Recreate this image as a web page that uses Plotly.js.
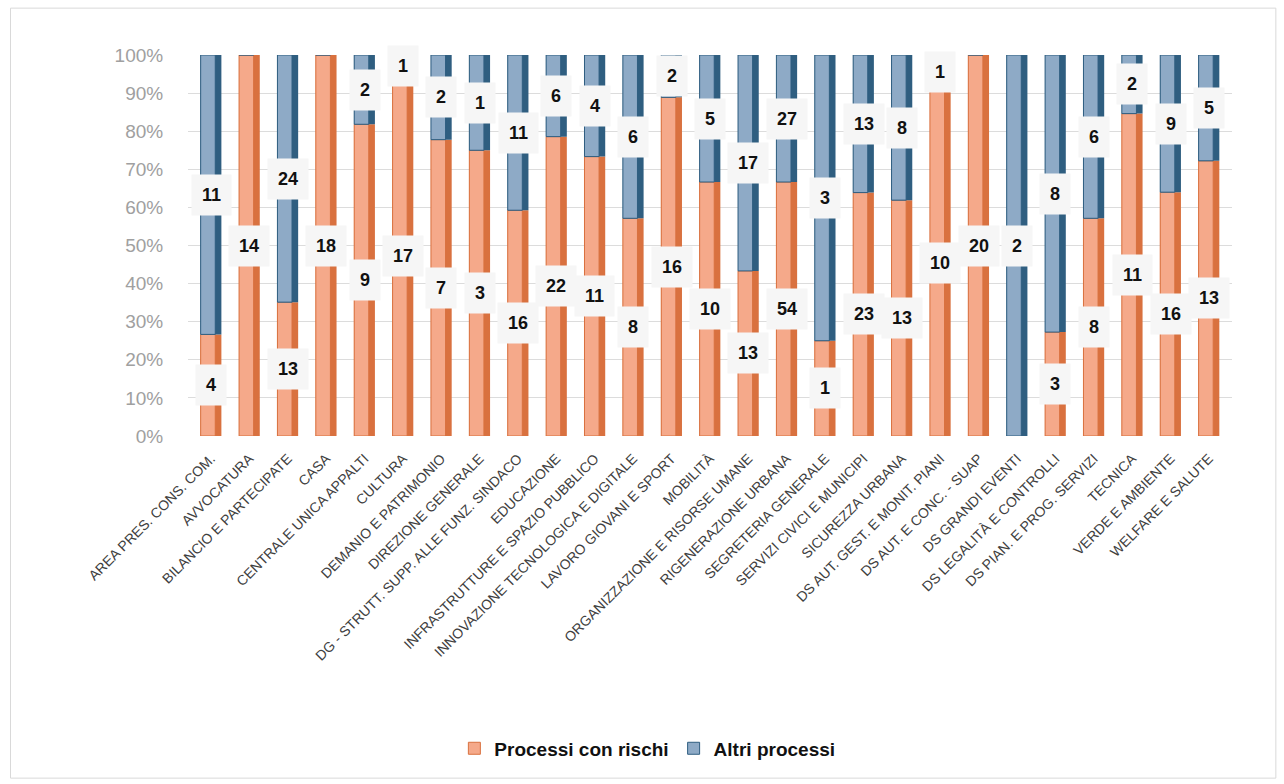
<!DOCTYPE html>
<html>
<head>
<meta charset="utf-8">
<script src="https://cdn.plot.ly/plotly-3.0.1.min.js"></script>
<style>html,body{margin:0;padding:0;background:#fff;}#chart{width:1284px;height:784px;}</style>
</head>
<body>
<div id="chart"></div>
<script>
const categories = [
  "AREA PRES. CONS. COM.", "AVVOCATURA", "BILANCIO E PARTECIPATE", "CASA",
  "CENTRALE UNICA APPALTI", "CULTURA", "DEMANIO E PATRIMONIO", "DIREZIONE GENERALE",
  "DG - STRUTT. SUPP. ALLE FUNZ. SINDACO", "EDUCAZIONE", "INFRASTRUTTURE E SPAZIO PUBBLICO",
  "INNOVAZIONE TECNOLOGICA E DIGITALE", "LAVORO GIOVANI E SPORT", "MOBILITÀ",
  "ORGANIZZAZIONE E RISORSE UMANE", "RIGENERAZIONE URBANA", "SEGRETERIA GENERALE",
  "SERVIZI CIVICI E MUNICIPI", "SICUREZZA URBANA", "DS AUT. GEST. E MONIT. PIANI",
  "DS AUT. E CONC. - SUAP", "DS GRANDI EVENTI", "DS LEGALITÀ E CONTROLLI",
  "DS PIAN. E PROG. SERVIZI", "TECNICA", "VERDE E AMBIENTE", "WELFARE E SALUTE"
];
const processiConRischi = [4,14,13,18,9,17,7,3,16,22,11,8,16,10,13,54,1,23,13,10,20,0,3,8,11,16,13];
const altriProcessi     = [11,0,24,0,2,1,2,1,11,6,4,6,2,5,17,27,3,13,8,1,0,2,8,6,2,9,5];
const seriesNames = ["Processi con rischi", "Altri processi"];

const idx = categories.map((_, i) => i);
const totals = processiConRischi.map((v, i) => v + altriProcessi[i]);
const pctR = processiConRischi.map((v, i) => v / totals[i] * 100);
const pctA = altriProcessi.map((v, i) => v / totals[i] * 100);

const W = 0.54, FACE = 0.38;
const orangeFace = '#f5a98a', orangeSide = '#d9713f';
const blueFace = '#8eaac6', blueSide = '#2f5e80';

function sideTrace(y, base, color) {
  return {type:'bar', x: idx, y: y, base: base, width: W, offset: -W/2,
    marker:{color: color, line:{width:0}}, showlegend:false, hoverinfo:'skip'};
}
function faceTrace(y, base, color, edge, name) {
  return {type:'bar', x: idx, y: y, base: base, width: FACE, offset: -W/2, name: name,
    marker:{color: color, line:{width:1, color: edge}}, showlegend:true};
}
const zeros = idx.map(() => 0);
const traces = [
  sideTrace(pctR, zeros, orangeSide),
  faceTrace(pctR, zeros, orangeFace, orangeSide, seriesNames[0]),
  sideTrace(pctA, pctR, blueSide),
  faceTrace(pctA, pctR, blueFace, blueSide, seriesNames[1])
];

const annotations = [];
idx.forEach(i => {
  if (processiConRischi[i] > 0) annotations.push({x: i, y: pctR[i] / 2, text: String(processiConRischi[i])});
  if (altriProcessi[i] > 0) annotations.push({x: i, y: pctR[i] + pctA[i] / 2, text: String(altriProcessi[i])});
});
annotations.forEach(a => Object.assign(a, {
  xref:'x', yref:'y', showarrow:false, bgcolor:'#f6f6f6', borderpad:10,
  font:{family:'Liberation Sans, Arial, sans-serif', size:18, color:'#111', weight:'bold'}
}));

const layout = {
  width:1284, height:784,
  margin:{l:188, r:52, t:55, b:348},
  paper_bgcolor:'#ffffff', plot_bgcolor:'#ffffff',
  barmode:'overlay',
  showlegend:true,
  legend:{orientation:'h', x:0.44, xanchor:'center', y:-0.82, yanchor:'middle',
    font:{family:'Liberation Sans, Arial, sans-serif', size:19, color:'#111', weight:'bold'},
    traceorder:'normal'},
  xaxis:{tickmode:'array', tickvals: idx, ticktext: categories, tickangle:-45,
    range:[-0.6, 26.6], showgrid:false, zeroline:false, showline:false,
    ticks:'outside', ticklen:8, tickcolor:'rgba(0,0,0,0)',
    tickfont:{family:'Liberation Sans, Arial, sans-serif', size:14, color:'#404040'}},
  yaxis:{range:[0,100], dtick:10, ticksuffix:'%', showgrid:true, gridcolor:'#dcdcdc', gridwidth:1,
    zeroline:false, showline:false, ticks:'outside', tickcolor:'rgba(0,0,0,0)', ticklen:20,
    tickfont:{family:'Liberation Sans, Arial, sans-serif', size:19, color:'#a0a0a0'}},
  annotations: annotations,
  shapes:[{type:'rect', xref:'paper', yref:'paper', x0:-0.17, x1:1.042, y0:-0.898, y1:1.123,
    line:{color:'#d9d9d9', width:1}, fillcolor:'rgba(0,0,0,0)'}]
};

Plotly.newPlot('chart', traces, layout, {displayModeBar:false});
</script>
</body>
</html>
